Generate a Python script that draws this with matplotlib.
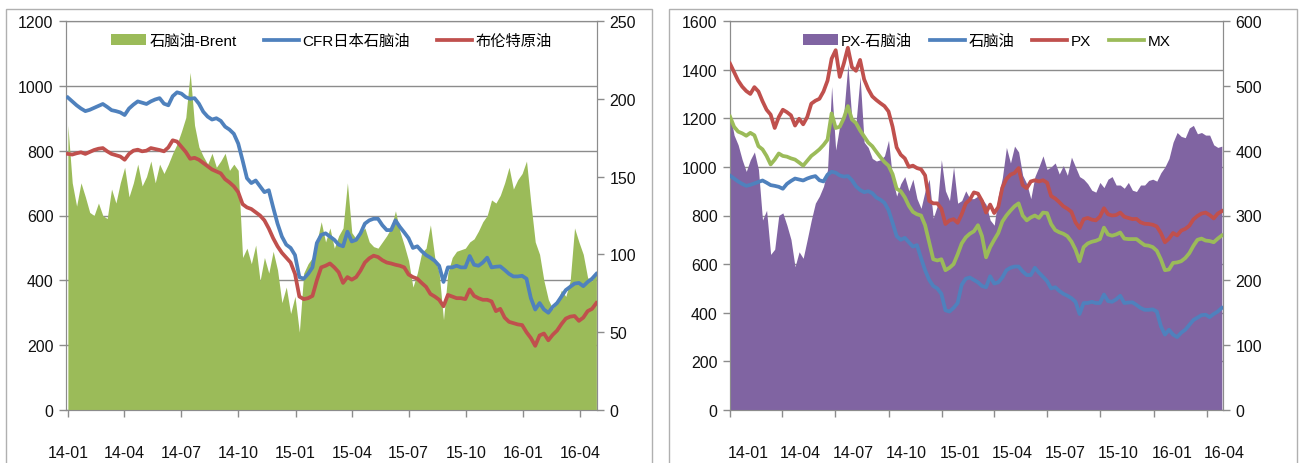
import matplotlib
matplotlib.use('Agg')
import matplotlib.pyplot as plt
import matplotlib.transforms as mtransforms
from matplotlib.patches import Rectangle
import pandas as pd

plt.rcParams['font.family'] = ['Liberation Sans Narrow', 'Liberation Sans', 'Noto Sans CJK SC', 'DejaVu Sans']

# weekly readings, 2014-01-01 .. 2016-04-27
start = '2014-01-01'

# CFR Japan naphtha, $/t (left axis on both charts)
naphtha = [964, 952, 940, 930, 922, 926, 932, 938, 944, 935, 925, 922, 918, 910, 930, 942, 952, 948, 944, 952,
           958, 962, 945, 940, 968, 980, 976, 965, 960, 962, 945, 920, 905, 896, 900, 892, 874, 865, 852, 822,
           770, 715, 700, 708, 690, 672, 678, 625, 575, 535, 510, 500, 478, 410, 405, 420, 440, 515, 540, 545,
           535, 525, 510, 505, 550, 520, 525, 545, 575, 585, 590, 590, 570, 555, 555, 585, 565, 548, 530, 500,
           505, 490, 478, 470, 460, 445, 395, 440, 440, 445, 440, 440, 475, 448, 445, 455, 470, 440, 442, 443,
           432, 420, 412, 412, 414, 405, 345, 310, 330, 310, 300, 318, 330, 350, 370, 380, 390, 392, 382, 395,
           405, 420]

# Brent, $/t (left axis)
brent = [790, 788, 792, 795, 790, 796, 802, 806, 808, 798, 790, 786, 782, 772, 790, 800, 803, 798, 800, 808,
         805, 802, 798, 810, 832, 828, 812, 796, 775, 778, 772, 762, 752, 742, 736, 730, 712, 702, 690, 672,
         635, 625, 620, 610, 600, 585, 560, 530, 505, 485, 470, 455, 420, 350, 342, 345, 352, 400, 440, 445,
         452, 440, 425, 392, 410, 402, 410, 430, 455, 468, 476, 472, 462, 455, 452, 448, 445, 440, 418, 410,
         405, 392, 380, 358, 350, 340, 320, 355, 350, 345, 345, 342, 372, 352, 345, 340, 340, 335, 305, 312,
         285, 272, 268, 264, 262, 240, 222, 198, 230, 236, 215, 232, 245, 265, 282, 288, 290, 275, 285, 305,
         312, 330]

# naphtha - Brent spread (right axis, left chart)
naph_brent = [183, 146, 131, 146, 137, 127, 125, 133, 125, 123, 142, 133, 146, 156, 137, 146, 158, 144, 150, 160,
              146, 158, 152, 158, 165, 171, 179, 188, 217, 183, 169, 163, 158, 165, 156, 160, 165, 154, 158, 154,
              98, 104, 94, 106, 83, 98, 88, 102, 90, 69, 79, 62, 73, 50, 88, 94, 98, 108, 121, 108,
              117, 104, 112, 117, 146, 114, 110, 114, 117, 108, 105, 104, 108, 112, 117, 128, 115, 106, 96, 79,
              88, 101, 104, 119, 98, 88, 58, 88, 98, 102, 103, 104, 108, 110, 115, 121, 125, 135, 133, 138,
              146, 156, 142, 148, 152, 160, 133, 108, 100, 83, 71, 65, 69, 77, 73, 83, 117, 108, 100, 85,
              83, 88]

# PX, $/t (left axis, right chart)
px = [1425, 1390, 1355, 1330, 1312, 1300, 1328, 1310, 1270, 1235, 1215, 1160, 1205, 1235, 1225, 1212, 1170, 1198, 1175, 1205,
      1260, 1272, 1280, 1310, 1355, 1445, 1480, 1370, 1425, 1490, 1410, 1395, 1440, 1360, 1320, 1290, 1275, 1262, 1250, 1228,
      1165, 1080, 1050, 1035, 1000, 1005, 995, 990, 965, 860, 850, 850, 828, 765, 780, 785, 770, 805, 850, 865,
      895, 890, 860, 812, 845, 810, 835, 915, 950, 968, 975, 995, 925, 912, 940, 945, 940, 945, 935, 880,
      870, 855, 838, 828, 815, 772, 748, 785, 790, 783, 780, 795, 830, 805, 800, 802, 812, 795, 790, 785,
      786, 772, 766, 765, 762, 755, 728, 690, 705, 728, 718, 738, 745, 758, 784, 798, 808, 812, 802, 788,
      808, 818]

# MX, $/t (left axis, right chart)
mx = [1207, 1165, 1145, 1138, 1128, 1140, 1130, 1085, 1072, 1045, 1010, 1030, 1055, 1045, 1042, 1035, 1030, 1018, 1005, 1025,
      1045, 1058, 1072, 1090, 1112, 1220, 1160, 1165, 1200, 1250, 1195, 1180, 1150, 1125, 1100, 1085, 1062, 1040, 1020, 1005,
      970, 910, 900, 875, 840, 815, 805, 800, 760, 690, 620, 615, 620, 575, 585, 600, 640, 685, 710, 725,
      735, 760, 715, 628, 670, 700, 728, 775, 800, 820, 838, 850, 800, 780, 792, 800, 790, 812, 810, 765,
      740, 731, 725, 715, 693, 660, 612, 670, 685, 692, 696, 703, 750, 722, 717, 722, 730, 705, 703, 703,
      703, 690, 678, 676, 670, 655, 620, 575, 578, 605, 607, 612, 625, 645, 675, 700, 705, 697, 695, 690,
      705, 718]

# PX - naphtha spread (right axis, right chart)
px_naph = [458, 424, 409, 386, 368, 386, 398, 371, 293, 308, 240, 248, 300, 304, 285, 263, 221, 244, 234, 263,
           293, 319, 330, 345, 371, 499, 401, 439, 458, 533, 446, 443, 514, 413, 405, 388, 384, 386, 392, 416,
           356, 330, 349, 360, 338, 356, 326, 311, 338, 356, 296, 315, 386, 338, 323, 375, 319, 323, 338, 326,
           326, 330, 326, 317, 293, 285, 330, 358, 405, 381, 407, 398, 362, 349, 326, 360, 375, 392, 371, 375,
           381, 364, 377, 362, 390, 375, 360, 356, 349, 339, 336, 351, 343, 356, 360, 347, 347, 342, 351, 339,
           337, 347, 347, 354, 356, 353, 366, 375, 388, 413, 428, 422, 420, 435, 439, 426, 428, 424, 424, 409,
           405, 407]

dates = pd.date_range(start, periods=len(naphtha), freq='7D')
quarter_ticks = pd.date_range('2014-01-01', '2016-04-01', freq='QS')
quarter_labels = [d.strftime('%y-%m') for d in quarter_ticks]

GREEN = '#9bbb59'
BLUE = '#4f81bd'
RED = '#c0504d'
PURPLE = '#8064a2'
GRAY = '#8c8c8c'
LW = 2.7

W, H = 1302, 464
fig = plt.figure(figsize=(W / 100, H / 100), dpi=100)


def px_rect(l, r, t, b):
    return [l / W, 1 - b / H, (r - l) / W, (b - t) / H]


# panel frames
for l, r in [(6, 652), (669, 1297)]:
    fig.add_artist(Rectangle((l / W, -0.05), (r - l) / W, 1.05 - 10 / H, transform=fig.transFigure,
                             fill=False, edgecolor='#b0b0b0', lw=1))


def make_panel(rect, lmax, lstep, rmax, rstep, xlim, label_shift):
    ax = fig.add_axes(rect)
    ax_area = ax.twinx()
    ax_line = ax.twinx()
    ax.set_zorder(0)
    ax_area.set_zorder(1)
    ax_line.set_zorder(2)

    ax.set_ylim(0, lmax)
    ax.set_yticks(range(0, lmax + 1, lstep))
    ax.yaxis.grid(True, color=GRAY, lw=1)
    ax.set_axisbelow(True)
    ax_area.set_ylim(0, rmax)
    ax_area.set_yticks(range(0, rmax + 1, rstep))
    ax_line.set_ylim(0, lmax)
    ax_line.yaxis.set_visible(False)
    for s in ax_line.spines.values():
        s.set_visible(False)

    ax.set_xlim(pd.Timestamp(xlim[0]), pd.Timestamp(xlim[1]))
    ax.set_xticks(quarter_ticks)
    ax.set_xticklabels(quarter_labels)

    for a in (ax, ax_area):
        for s in a.spines.values():
            s.set_color(GRAY)
        a.tick_params(colors=GRAY, labelcolor='#111111', labelsize=11.5, length=5, width=1)
    ax.tick_params(axis='y', pad=4)
    ax_area.tick_params(axis='y', pad=4)
    ax.tick_params(axis='x', pad=20)

    if label_shift:
        off = mtransforms.ScaledTranslation(label_shift / 100, 0, fig.dpi_scale_trans)
        for t in ax.xaxis.get_major_ticks():
            t.label1.set_transform(t.label1.get_transform() + off)
    return ax, ax_area, ax_line


# left chart: naphtha vs Brent
ax1, ax1a, ax1l = make_panel(px_rect(66, 597, 22, 411), 1200, 200, 250, 50,
                             ('2013-12-29', '2016-04-28'), 0)
h1 = ax1a.fill_between(dates, naph_brent, 0, color=GREEN, lw=0, label='石脑油-Brent')
l1, = ax1l.plot(dates, naphtha, color=BLUE, lw=LW, label='CFR日本石脑油')
l2, = ax1l.plot(dates, brent, color=RED, lw=LW, label='布伦特原油')
ax1l.legend(handles=[h1, l1, l2], loc='center', bbox_to_anchor=(0.5, 0.949), ncol=3, frameon=False,
            fontsize=11, handlelength=2.3, handletextpad=0.2, columnspacing=1.8)

# right chart: PX, MX, naphtha
ax2, ax2a, ax2l = make_panel(px_rect(730, 1223, 22, 411), 1600, 200, 600, 100,
                             ('2014-01-01', '2016-04-29'), 18)
h2 = ax2a.fill_between(dates, px_naph, 0, color=PURPLE, lw=0, label='PX-石脑油')
m1, = ax2l.plot(dates, naphtha, color=BLUE, lw=LW, label='石脑油')
m2, = ax2l.plot(dates, px, color=RED, lw=LW, label='PX')
m3, = ax2l.plot(dates, mx, color=GREEN, lw=LW, label='MX')
ax2l.legend(handles=[h2, m1, m2, m3], loc='center', bbox_to_anchor=(0.52, 0.949), ncol=4, frameon=False,
            fontsize=11, handlelength=2.3, handletextpad=0.2, columnspacing=1.2)

fig.savefig('out.png', dpi=100)
